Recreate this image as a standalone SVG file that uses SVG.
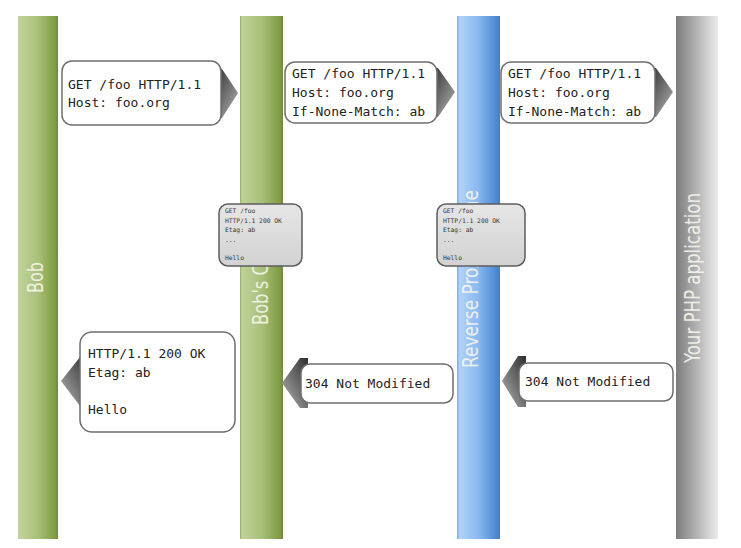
<svg xmlns="http://www.w3.org/2000/svg" width="741" height="548" viewBox="0 0 741 548">
<defs>
<linearGradient id="gGreen" x1="0" y1="0" x2="1" y2="0">
<stop offset="0" stop-color="#c2d49c"/><stop offset="0.5" stop-color="#a9c07a"/><stop offset="0.93" stop-color="#7f9b42"/><stop offset="1" stop-color="#6f8a36"/>
</linearGradient>
<linearGradient id="gBlue" x1="0" y1="0" x2="1" y2="0">
<stop offset="0" stop-color="#7fa8dc"/><stop offset="0.06" stop-color="#b0d2f7"/><stop offset="0.5" stop-color="#8ab8ee"/><stop offset="1" stop-color="#3f80cc"/>
</linearGradient>
<linearGradient id="gGray" x1="0" y1="0" x2="1" y2="0">
<stop offset="0" stop-color="#7c7c7c"/><stop offset="0.5" stop-color="#b4b4b4"/><stop offset="1" stop-color="#ececec"/>
</linearGradient>
<linearGradient id="gArrR" x1="0" y1="0" x2="1" y2="1">
<stop offset="0" stop-color="#2e2e2e"/><stop offset="0.55" stop-color="#777"/><stop offset="1" stop-color="#b8b8b8"/>
</linearGradient>
<linearGradient id="gArrL" x1="1" y1="0" x2="0" y2="1">
<stop offset="0" stop-color="#2e2e2e"/><stop offset="0.55" stop-color="#777"/><stop offset="1" stop-color="#b8b8b8"/>
</linearGradient>
<linearGradient id="gSmall" x1="0" y1="0" x2="0" y2="1">
<stop offset="0" stop-color="#e6e6e6"/><stop offset="1" stop-color="#d2d2d2"/>
</linearGradient>
</defs>
<style>
.box{fill:#fff;stroke:#6e6e6e;stroke-width:1.5}
.sbox{fill:url(#gSmall);stroke:#5e5e5e;stroke-width:1.5}
.mono{font-family:"DejaVu Sans Mono","Liberation Mono",monospace;font-size:13px;fill:#222}
.tiny{font-family:"DejaVu Sans Mono","Liberation Mono",monospace;font-size:6.3px;fill:#333}
.lane{font-family:"Liberation Sans Narrow","DejaVu Sans Condensed","Liberation Sans",sans-serif;font-size:21px;fill:#f6f6ee;fill-opacity:0.92}
.ar{fill:url(#gArrR)}
.al{fill:url(#gArrL)}
</style>
<rect width="741" height="548" fill="#fff"/>

<g id="lane-bob">
<rect x="18" y="16" width="40" height="523" fill="url(#gGreen)"/>
<text class="lane" transform="translate(43,293) rotate(-90)" textLength="31" lengthAdjust="spacingAndGlyphs">Bob</text>
</g>
<g id="lane-cache">
<rect x="240" y="16" width="43" height="523" fill="url(#gGreen)"/>
<rect x="240" y="16" width="1.2" height="523" fill="#9fb57a"/>
<text class="lane" transform="translate(268,325) rotate(-90)" textLength="100" lengthAdjust="spacingAndGlyphs">Bob's Cache</text>
</g>
<g id="lane-proxy">
<rect x="457" y="16" width="43" height="523" fill="url(#gBlue)"/>
<text class="lane" transform="translate(478,368) rotate(-90)" textLength="178" lengthAdjust="spacingAndGlyphs">Reverse Proxy Cache</text>
</g>
<g id="lane-php">
<rect x="676" y="16" width="42" height="523" fill="url(#gGray)"/>
<text class="lane" transform="translate(700,363) rotate(-90)" textLength="170" lengthAdjust="spacingAndGlyphs">Your PHP application</text>
</g>

<g id="connectors">
<polygon class="ar" points="214,69 222,69 238,93 222,118 214,118"/>
<polygon class="ar" points="430,68 438,68 455,92 438,117 430,117"/>
<polygon class="ar" points="648,68 656,68 673,92 656,117 648,117"/>
<polygon class="al" points="88,357 80,357 61,381 80,406 88,406"/>
<polygon class="al" points="308,358 300,358 282,383 300,408 308,408"/>
<polygon class="al" points="526,356 518,356 502,381 518,407 526,407"/>
</g>

<g id="req1">
<rect class="box" x="62" y="61" width="159" height="64" rx="10"/>
<text class="mono" x="68" y="89">GET /foo HTTP/1.1</text>
<text class="mono" x="68" y="107">Host: foo.org</text>
</g>
<g id="req2">
<rect class="box" x="285" y="62" width="152" height="61" rx="10"/>
<text class="mono" x="292" y="78">GET /foo HTTP/1.1</text>
<text class="mono" x="292" y="97">Host: foo.org</text>
<text class="mono" x="292" y="116">If-None-Match: ab</text>
</g>
<g id="req3">
<rect class="box" x="501" y="62" width="154" height="61" rx="10"/>
<text class="mono" x="508" y="78">GET /foo HTTP/1.1</text>
<text class="mono" x="508" y="97">Host: foo.org</text>
<text class="mono" x="508" y="116">If-None-Match: ab</text>
</g>

<g id="cache1">
<rect class="sbox" x="219" y="204" width="83" height="62" rx="9"/>
<text class="tiny" x="225" y="213">GET /foo</text>
<text class="tiny" x="225" y="223">HTTP/1.1 200 OK</text>
<text class="tiny" x="225" y="232">Etag: ab</text>
<text class="tiny" x="225" y="242">...</text>
<text class="tiny" x="225" y="260">Hello</text>
</g>
<g id="cache2">
<rect class="sbox" x="437" y="204" width="88" height="62" rx="9"/>
<text class="tiny" x="443" y="213">GET /foo</text>
<text class="tiny" x="443" y="223">HTTP/1.1 200 OK</text>
<text class="tiny" x="443" y="232">Etag: ab</text>
<text class="tiny" x="443" y="242">...</text>
<text class="tiny" x="443" y="260">Hello</text>
</g>

<g id="resp1">
<rect class="box" x="80" y="332" width="155" height="100" rx="12"/>
<text class="mono" x="88" y="358">HTTP/1.1 200 OK</text>
<text class="mono" x="88" y="377">Etag: ab</text>
<text class="mono" x="88" y="414">Hello</text>
</g>
<g id="resp2">
<rect class="box" x="301" y="364" width="152" height="39" rx="9"/>
<text class="mono" x="305" y="388">304 Not Modified</text>
</g>
<g id="resp3">
<rect class="box" x="519" y="363" width="154" height="38" rx="9"/>
<text class="mono" x="525" y="386">304 Not Modified</text>
</g>
</svg>
